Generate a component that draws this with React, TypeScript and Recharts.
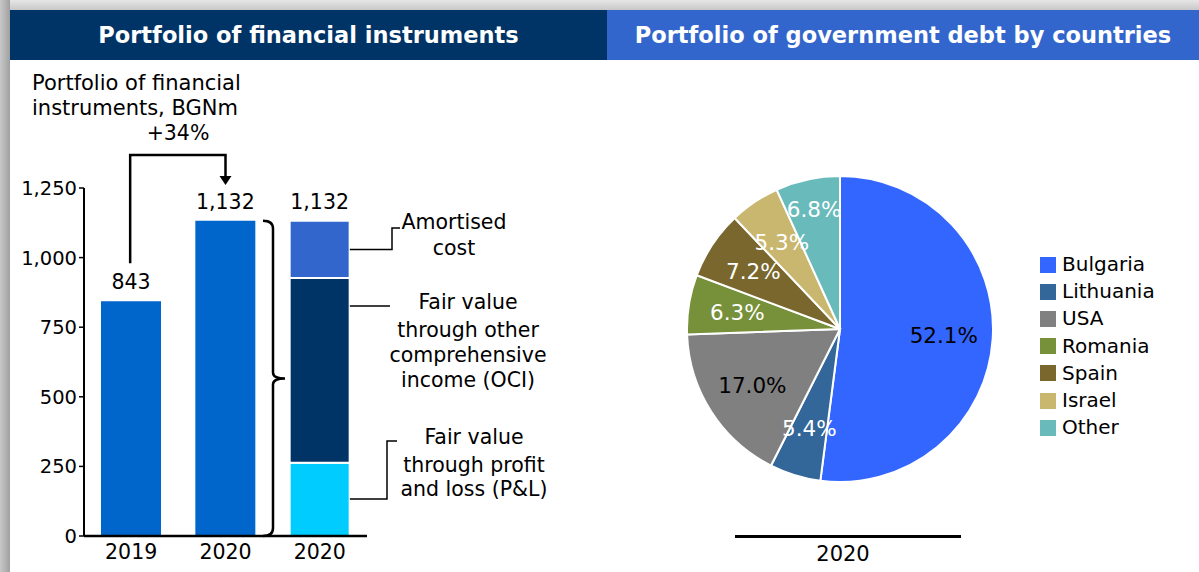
import React from "react";
import {
  BarChart,
  Bar,
  XAxis,
  YAxis,
  LabelList,
  PieChart,
  Pie,
  Cell,
} from "recharts";

// left panel: portfolio of financial instruments, BGNm
const barYears = ["2019", "2020", "2020"];
const totals = [843, 1132, null];
const plValues = [null, null, 263];
const ociValues = [null, null, 664];
const amortisedValues = [null, null, 205];
const yTicks = [0, 250, 500, 750, 1000, 1250];

// right panel: government debt by countries, 2020
const countries = ["Bulgaria", "Lithuania", "USA", "Romania", "Spain", "Israel", "Other"];
const shares = [52.1, 5.4, 17.0, 6.3, 7.2, 5.3, 6.8];
const countryColors = ["#3366FF", "#336699", "#808080", "#77903A", "#7A672D", "#C9B76F", "#69BBBB"];

const FONT = "'DejaVu Sans', Verdana, sans-serif";
const FS = 20.5;

// plot geometry of the bar chart (shared with the annotation overlay)
const PLOT_TOP = 188;
const PLOT_BOTTOM = 536;
const PLOT_LEFT = 84;
const PLOT_RIGHT = 367;
const Y_MAX = 1250;
const yPx = (v: number) => PLOT_BOTTOM - (v / Y_MAX) * (PLOT_BOTTOM - PLOT_TOP);
const band = (PLOT_RIGHT - PLOT_LEFT) / barYears.length;
const xPx = (i: number) => PLOT_LEFT + (i + 0.5) * band;

const barData = barYears.map((year, i) => ({
  year,
  total: totals[i],
  pl: plValues[i],
  oci: ociValues[i],
  am: amortisedValues[i],
}));

const pieData = countries.map((name, i) => ({ name, value: shares[i] }));

const fmt = (v: any) => (v == null ? "" : Number(v).toLocaleString("en-US"));

const RADIAN = Math.PI / 180;

function PieLabel(props: any) {
  const { cx, cy, midAngle, outerRadius, index, value } = props;
  const r = outerRadius * (index === 6 ? 0.8 : 0.68);
  const x = cx + r * Math.cos(-midAngle * RADIAN);
  const y = cy + r * Math.sin(-midAngle * RADIAN);
  const dark = index === 0 || index === 2;
  return (
    <text
      x={x}
      y={y}
      fill={dark ? "#000" : "#fff"}
      textAnchor="middle"
      dominantBaseline="central"
      fontSize={21.5}
      fontFamily={FONT}
    >
      {value.toFixed(1)}%
    </text>
  );
}

function LeftAnnotations() {
  const topOfStack = yPx(263 + 664);
  const amMid = (yPx(1132) + topOfStack) / 2;
  const barRight = xPx(2) + 30;
  const bx = xPx(1) + 47.5;
  return (
    <svg
      width={1199}
      height={572}
      style={{ position: "absolute", left: 0, top: 0, pointerEvents: "none" }}
      fontFamily={FONT}
    >
      <text x={32} y={83} fontSize={21} dominantBaseline="central">Portfolio of financial</text>
      <text x={32} y={108} fontSize={21} dominantBaseline="central">instruments, BGNm</text>
      <text x={178} y={133} fontSize={FS} textAnchor="middle" dominantBaseline="central">+34%</text>

      {/* growth arrow */}
      <path
        d={`M${xPx(0) - 1},${yPx(843) - 38} V155 H${xPx(1)} V${yPx(Y_MAX) - 10}`}
        fill="none"
        stroke="#000"
        strokeWidth={2.5}
      />
      <path
        d={`M${xPx(1) - 6},${yPx(Y_MAX) - 12} L${xPx(1) + 6},${yPx(Y_MAX) - 12} L${xPx(1)},${yPx(Y_MAX) - 3} Z`}
        fill="#000"
      />

      {/* brace */}
      <path
        d={`M${bx - 10},${yPx(1132)} Q${bx},${yPx(1132)} ${bx},${yPx(1132) + 8} L${bx},${yPx(566) - 6} Q${bx},${yPx(566)} ${bx + 12},${yPx(566)} Q${bx},${yPx(566)} ${bx},${yPx(566) + 6} L${bx},${PLOT_BOTTOM - 8} Q${bx},${PLOT_BOTTOM} ${bx - 10},${PLOT_BOTTOM}`}
        fill="none"
        stroke="#000"
        strokeWidth={2.5}
      />

      {/* leaders */}
      <path d={`M${barRight},${amMid} H392 V228 H400`} fill="none" stroke="#000" strokeWidth={1.5} />
      <path d={`M${barRight},306 H390`} fill="none" stroke="#000" strokeWidth={1.5} />
      <path d={`M${barRight},499 H387 V441 H397`} fill="none" stroke="#000" strokeWidth={1.5} />

      <g fontSize={FS} textAnchor="middle" dominantBaseline="central">
        <text x={454} y={222}>Amortised</text>
        <text x={454} y={248}>cost</text>
        <text x={468} y={302}>Fair value</text>
        <text x={468} y={330}>through other</text>
        <text x={468} y={355}>comprehensive</text>
        <text x={468} y={380}>income (OCI)</text>
        <text x={474} y={437}>Fair value</text>
        <text x={474} y={465}>through profit</text>
        <text x={474} y={489}>and loss (P&amp;L)</text>
      </g>
    </svg>
  );
}

export default function App() {
  return (
    <div
      style={{
        position: "absolute",
        left: 0,
        top: 0,
        width: 1199,
        height: 572,
        background: "#fff",
        fontFamily: FONT,
        overflow: "hidden",
      }}
    >
      {/* frame shadow */}
      <div style={{ position: "absolute", left: 0, top: 0, width: 1199, height: 10, background: "linear-gradient(#e6e6e6, #c8c8c8)" }} />
      <div style={{ position: "absolute", left: 0, top: 0, width: 10, height: 572, background: "linear-gradient(90deg, #c8c8c8, #a0a0a0)" }} />

      {/* headers */}
      <div
        style={{
          position: "absolute", left: 10, top: 10, width: 597, height: 50, background: "#003366",
          color: "#fff", fontWeight: "bold", fontSize: 22.5, display: "flex", alignItems: "center", justifyContent: "center",
        }}
      >
        Portfolio of financial instruments
      </div>
      <div
        style={{
          position: "absolute", left: 607, top: 10, width: 592, height: 50, background: "#3366CC",
          color: "#fff", fontWeight: "bold", fontSize: 22.5, display: "flex", alignItems: "center", justifyContent: "center",
        }}
      >
        Portfolio of government debt by countries
      </div>

      {/* bar chart */}
      <div style={{ position: "absolute", left: 0, top: 0 }}>
        <BarChart
          width={400}
          height={572}
          data={barData}
          margin={{ top: PLOT_TOP, right: 400 - PLOT_RIGHT, bottom: 6, left: PLOT_LEFT - 60 }}
          barSize={60}
        >
          <XAxis
            dataKey="year"
            tick={{ fontSize: FS, fill: "#000" }}
            tickLine={false}
            axisLine={{ stroke: "#000", strokeWidth: 2.5 }}
            height={30}
            tickMargin={2}
          />
          <YAxis
            domain={[0, Y_MAX]}
            ticks={yTicks}
            width={60}
            tick={{ fontSize: 19.5, fill: "#000" }}
            tickFormatter={fmt}
            tickSize={5}
            tickLine={{ stroke: "#000", strokeWidth: 1.5 }}
            axisLine={{ stroke: "#000", strokeWidth: 2 }}
            interval={0}
          />
          <Bar dataKey="total" stackId="a" fill="#0066CC" isAnimationActive={false}>
            <LabelList dataKey="total" position="top" offset={12} fontSize={FS} fill="#000" formatter={fmt} />
          </Bar>
          <Bar dataKey="pl" stackId="a" fill="#00CCFF" stroke="#fff" strokeWidth={2} isAnimationActive={false} />
          <Bar dataKey="oci" stackId="a" fill="#003366" stroke="#fff" strokeWidth={2} isAnimationActive={false} />
          <Bar dataKey="am" stackId="a" fill="#3366CC" stroke="#fff" strokeWidth={2} isAnimationActive={false}>
            <LabelList
              valueAccessor={(entry: any) => {
                const p = entry.payload ?? entry;
                return p.am == null ? null : p.pl + p.oci + p.am;
              }}
              position="top"
              offset={12}
              fontSize={FS}
              fill="#000"
              formatter={fmt}
            />
          </Bar>
        </BarChart>
      </div>

      <LeftAnnotations />

      {/* pie chart */}
      <div style={{ position: "absolute", left: 607, top: 0 }}>
        <PieChart width={592} height={572} margin={{ top: 0, right: 0, bottom: 0, left: 0 }}>
          <Pie
            data={pieData}
            dataKey="value"
            nameKey="name"
            cx={233}
            cy={329}
            outerRadius={153}
            startAngle={90}
            endAngle={-270}
            stroke="#fff"
            strokeWidth={2}
            label={PieLabel}
            labelLine={false}
            isAnimationActive={false}
          >
            {pieData.map((d, i) => (
              <Cell key={d.name} fill={countryColors[i]} />
            ))}
          </Pie>
        </PieChart>
      </div>

      {/* legend */}
      <div style={{ position: "absolute", left: 1040, top: 251, fontSize: 20, lineHeight: "27.2px" }}>
        {countries.map((c, i) => (
          <div key={c} style={{ display: "flex", alignItems: "center", height: 27.2 }}>
            <span style={{ width: 16, height: 16, background: countryColors[i], marginRight: 6, display: "inline-block" }} />
            <span>{c}</span>
          </div>
        ))}
      </div>

      {/* pie axis */}
      <div style={{ position: "absolute", left: 735, top: 535, width: 226, height: 3, background: "#000" }} />
      <div style={{ position: "absolute", left: 743, top: 542, width: 200, textAlign: "center", fontSize: 21 }}>2020</div>
    </div>
  );
}
